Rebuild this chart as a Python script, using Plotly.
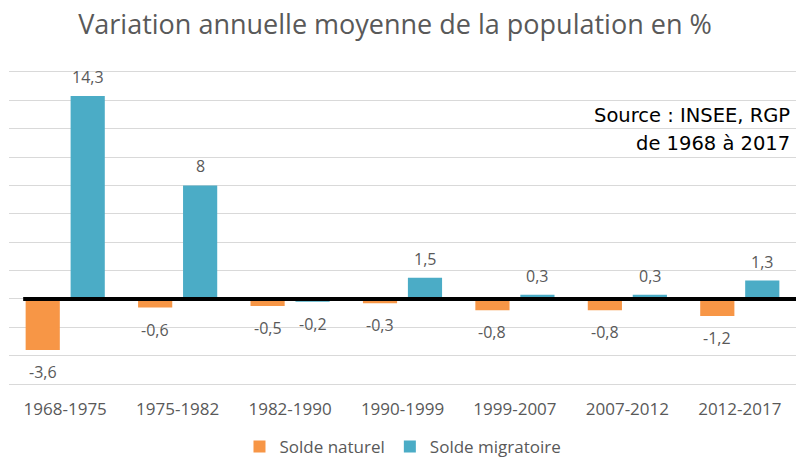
import plotly.graph_objects as go

categories = ["1968-1975", "1975-1982", "1982-1990", "1990-1999", "1999-2007", "2007-2012", "2012-2017"]
solde_naturel = [-3.6, -0.6, -0.5, -0.3, -0.8, -0.8, -1.2]
solde_migratoire = [14.3, 8, -0.2, 1.5, 0.3, 0.3, 1.3]
series_names = ["Solde naturel", "Solde migratoire"]
title_text = "Variation annuelle moyenne de la population en %"
source_lines = ["Source : INSEE, RGP", "de 1968 à 2017"]

ORANGE = "#F79646"
BLUE = "#4BACC6"
GRAY = "#595959"
FONT = "Open Sans, sans-serif"

def fmt(v):
    return f"{v:g}".replace(".", ",")

fig = go.Figure()
fig.add_trace(go.Bar(x=categories, y=solde_naturel, name=series_names[0],
                     marker=dict(color=ORANGE, line=dict(width=0))))
fig.add_trace(go.Bar(x=categories, y=solde_migratoire, name=series_names[1],
                     marker=dict(color=BLUE, line=dict(width=0))))

annotations = []
for vals, shift in ((solde_naturel, -22.5), (solde_migratoire, 22.5)):
    for c, v in zip(categories, vals):
        annotations.append(dict(
            x=c, y=v, xref="x", yref="y", text=fmt(v), showarrow=False,
            xshift=shift, yshift=19 if v >= 0 else -22, yanchor="middle",
            font=dict(family=FONT, size=16, color=GRAY)))

for i, line in enumerate(source_lines):
    annotations.append(dict(
        x=1, y=0.855 - i * 0.088, xref="paper", yref="paper", text=line,
        showarrow=False, xanchor="right", yanchor="middle", xshift=-4,
        font=dict(family="DejaVu Sans, Verdana, sans-serif", size=19.5, color="#000000")))

fig.update_layout(
    width=798, height=460,
    margin=dict(l=9, r=2, t=69, b=73),
    paper_bgcolor="white", plot_bgcolor="white",
    barmode="group", bargap=0.2, bargroupgap=0.24,
    title=dict(text=title_text, x=0.495, xref="container", xanchor="center",
               y=1 - 25 / 460, yref="container", yanchor="middle",
               font=dict(family=FONT, size=27, color=GRAY)),
    xaxis=dict(showgrid=False, showline=False, zeroline=False, ticks="",
               ticklabelstandoff=10,
               tickfont=dict(family=FONT, size=17, color=GRAY)),
    yaxis=dict(range=[-6.2, 16.2], dtick=2, showgrid=True, gridcolor="#d9d9d9",
               gridwidth=1, zeroline=False, showticklabels=False, showline=False),
    legend=dict(orientation="h", x=0.505, xanchor="center",
                xref="container", yref="container", y=1 - 447 / 460,
                yanchor="middle", font=dict(family=FONT, size=17, color=GRAY),
                itemwidth=30),
    annotations=annotations,
    shapes=[dict(type="line", xref="paper", yref="y", x0=0.018, x1=1, y0=0, y1=0,
                 line=dict(color="black", width=4), layer="above")],
    showlegend=True,
)

fig.write_html("out.html", config={"displayModeBar": False},
               post_script="document.body.style.margin='0';document.body.style.overflow='hidden';")
